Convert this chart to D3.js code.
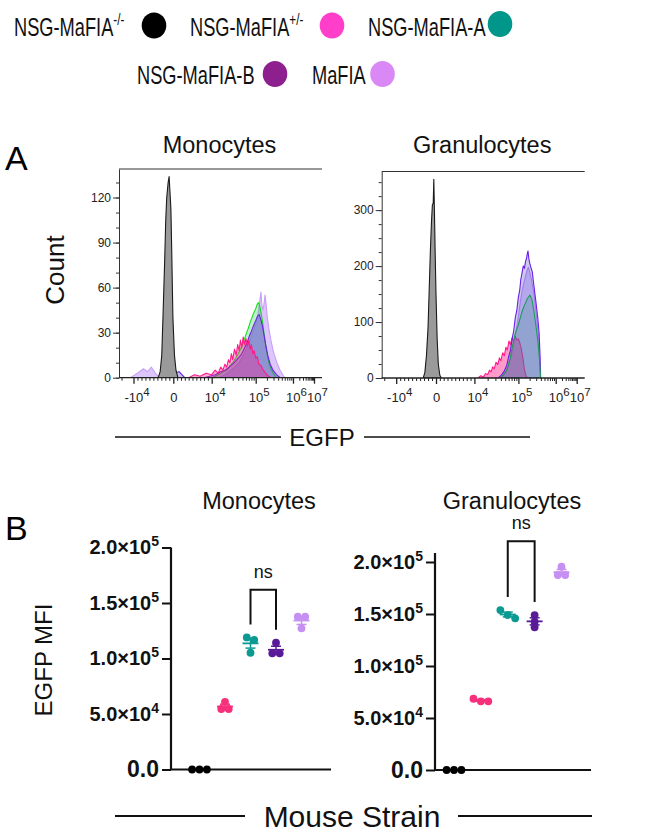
<!DOCTYPE html>
<html>

<head>
    <meta charset="UTF-8" />
    <title>EGFP in MaFIA strains</title>
    <style>
        body {
            margin: 0;
            padding: 0;
            background-color: #fff;
            font-family: 'Liberation Sans', Arial, sans-serif;
        }
    </style>
</head>

<body>
    <div class="container"></div>

    <script src="https://cdnjs.cloudflare.com/ajax/libs/d3/7.8.5/d3.min.js"></script>
    <script>
        // ---------- data ----------
        const strains = ['NSG-MaFIA-/-', 'NSG-MaFIA+/-', 'NSG-MaFIA-A', 'NSG-MaFIA-B', 'MaFIA'];
        const legendBase = ['NSG-MaFIA', 'NSG-MaFIA', 'NSG-MaFIA-A', 'NSG-MaFIA-B', 'MaFIA'];
        const legendSup = ['-/-', '+/-', '', '', ''];
        const legendColors = ['#000000', '#ff3ec9', '#00968a', '#8e1f8e', '#da88f6'];
        const dotColors = ['#000000', '#f7307c', '#0b9a92', '#5a1b98', '#c690f2'];
        const cellTypes = ['Monocytes', 'Granulocytes'];

        // flow histograms, [EGFP, count]
        const monoNeg = [[-3800, 0], [-3300, 4], [-2900, 15], [-2600, 40], [-2200, 75], [-1900, 105], [-1650, 120], [-1300, 130], [-1050, 134], [-800, 122], [-600, 112], [-400, 85], [-100, 40], [300, 15], [700, 5], [1200, 0]];
        const monoHet = [[4000, 0], [5500, 2], [7000, 1], [8500, 3], [10000, 2], [12000, 5], [14000, 3], [16000, 7], [18000, 5], [20000, 9], [22000, 7], [24000, 12], [26000, 10], [28000, 16], [30000, 12], [33000, 19], [36000, 15], [39000, 22], [42000, 18], [45000, 25], [48000, 20], [52000, 27], [56000, 22], [60000, 26], [65000, 21], [70000, 25], [75000, 19], [80000, 22], [86000, 16], [92000, 18], [100000, 13], [110000, 14], [122000, 9], [140000, 8], [160000, 5], [185000, 3], [220000, 1], [260000, 0]];
        const monoA = [[10000, 0], [14000, 2], [18000, 4], [22000, 5], [26000, 8], [30000, 10], [35000, 13], [40000, 16], [45000, 19], [50000, 22], [56000, 26], [62000, 30], [68000, 33], [75000, 37], [82000, 40], [90000, 43], [100000, 46], [110000, 49], [120000, 50], [130000, 47], [142000, 42], [155000, 36], [172000, 27], [195000, 18], [225000, 10], [265000, 5], [310000, 2], [360000, 0]];
        const monoB = [[-3000, 0], [-2000, 3], [-1000, 5], [0, 3], [1500, 4], [3000, 0], [8000, 0], [12000, 2], [16000, 4], [20000, 5], [25000, 7], [30000, 9], [35000, 11], [40000, 13], [46000, 15], [52000, 18], [58000, 21], [65000, 24], [72000, 28], [80000, 31], [90000, 35], [100000, 38], [112000, 41], [124000, 42], [136000, 39], [150000, 35], [166000, 29], [185000, 22], [210000, 15], [245000, 9], [290000, 5], [360000, 2], [450000, 0]];
        const monoWt = [[-12000, 0], [-9000, 3], [-7500, 6], [-6500, 4], [-5500, 7], [-4500, 3], [-3500, 0], [15000, 0], [20000, 2], [25000, 4], [30000, 6], [36000, 8], [42000, 10], [48000, 13], [55000, 16], [62000, 20], [70000, 24], [80000, 28], [90000, 32], [100000, 36], [110000, 40], [120000, 45], [130000, 52], [138000, 57], [146000, 49], [155000, 45], [165000, 48], [178000, 55], [190000, 49], [205000, 40], [225000, 33], [255000, 25], [300000, 17], [370000, 10], [450000, 5], [530000, 2], [600000, 0]];

        const granNeg = [[-3200, 0], [-2800, 10], [-2400, 40], [-2000, 90], [-1700, 160], [-1400, 230], [-1100, 285], [-900, 310], [-700, 312], [-550, 355], [-400, 300], [-200, 220], [0, 150], [300, 70], [600, 25], [1000, 5], [1400, 0]];
        const granHet = [[12000, 0], [14000, 4], [16000, 2], [18000, 8], [20000, 6], [22000, 14], [24000, 11], [26000, 20], [28000, 16], [31000, 28], [34000, 24], [37000, 36], [40000, 31], [44000, 45], [48000, 40], [52000, 55], [56000, 50], [61000, 66], [66000, 60], [72000, 72], [78000, 66], [85000, 74], [92000, 68], [100000, 70], [110000, 62], [120000, 52], [132000, 35], [145000, 15], [160000, 4], [175000, 0]];
        const granA = [[40000, 0], [55000, 15], [65000, 35], [75000, 60], [85000, 80], [100000, 95], [115000, 110], [130000, 122], [150000, 132], [175000, 142], [205000, 148], [230000, 140], [260000, 120], [300000, 90], [340000, 60], [370000, 30], [395000, 0]];
        const granB = [[35000, 0], [42000, 6], [48000, 13], [54000, 22], [60000, 38], [66000, 50], [72000, 70], [78000, 84], [85000, 108], [92000, 121], [100000, 145], [108000, 156], [116000, 176], [125000, 188], [135000, 200], [145000, 196], [155000, 208], [165000, 214], [173000, 222], [181000, 227], [190000, 214], [200000, 206], [215000, 198], [235000, 190], [260000, 165], [290000, 140], [330000, 108], [360000, 80], [380000, 40], [395000, 0]];
        const granWt = [[40000, 0], [50000, 8], [60000, 22], [70000, 42], [80000, 65], [90000, 88], [100000, 110], [112000, 135], [125000, 155], [140000, 170], [155000, 182], [170000, 192], [185000, 198], [200000, 190], [225000, 175], [260000, 150], [300000, 115], [340000, 80], [370000, 40], [390000, 0]];

        const egfpTicks = [-1e4, 0, 1e4, 1e5, 1e6, 1e7];
        const egfpTickBase = ['-10', '0', '10', '10', '10', '10'];
        const egfpTickSup = ['4', '', '4', '5', '6', '7'];
        const monoCountTicks = [0, 30, 60, 90, 120];
        const granCountTicks = [0, 100, 200, 300];

        // EGFP MFI per mouse (3 per strain)
        const monoMFI = [[0, 0, 0], [61000, 54500, 54500], [119000, 116700, 105200], [114200, 104700, 104700], [137700, 137700, 127200]];
        const granMFI = [[0, 0, 0], [68500, 66000, 66000], [153800, 149000, 145800], [149000, 142600, 137200], [195500, 187500, 187500]];
        const mfiTicks = [0, 5e4, 1e5, 1.5e5, 2e5];
        const mfiTickBase = ['0.0', '5.0×10', '1.0×10', '1.5×10', '2.0×10'];
        const mfiTickSup = ['', '4', '5', '5', '5'];

        // ---------- drawing ----------
        const svg = d3.select('.container').append('svg')
            .attr('width', 649)
            .attr('height', 836)
            .style('font-family', "'Liberation Sans', Arial, sans-serif");

        function supText(sel, base, sup, supSize, supDy) {
            sel.text(null);
            sel.append('tspan').text(base);
            if (sup) sel.append('tspan').attr('font-size', supSize).attr('dy', supDy).text(sup);
        }

        // legend
        const legendLayout = [
            { x: 14, y: 36, cx: 154, cy: 25.5 },
            { x: 190, y: 36, cx: 332, cy: 25.5 },
            { x: 368, y: 36, cx: 500, cy: 24 },
            { x: 137, y: 84, cx: 275, cy: 74 },
            { x: 312, y: 84, cx: 382.5, cy: 74 }
        ];
        strains.forEach((s, i) => {
            const L = legendLayout[i];
            const t = svg.append('g')
                .attr('transform', `translate(${L.x},${L.y}) scale(0.73,1)`)
                .append('text')
                .attr('font-size', 25)
                .attr('fill', '#111');
            supText(t, legendBase[i], legendSup[i], 16, -11);
            svg.append('ellipse')
                .attr('cx', L.cx).attr('cy', L.cy)
                .attr('rx', 12.3).attr('ry', 13)
                .attr('fill', legendColors[i]);
        });

        // panel letters
        svg.append('text').attr('x', 5).attr('y', 170).attr('font-size', 34).text('A');
        svg.append('text').attr('x', 5).attr('y', 540).attr('font-size', 34).text('B');

        // ----- A: histograms -----
        function egfpT(v) {
            return Math.abs(v) <= 1e4 ? v / 1e4 : Math.sign(v) * (Math.log10(Math.abs(v)) - 3);
        }

        const histW = 203;
        const histSeries = {
            Monocytes: [
                { data: monoWt, fill: 'rgba(198,160,250,0.6)', stroke: '#c7a0f6' },
                { data: monoA, fill: 'rgba(0,190,60,0.25)', stroke: '#16dd16' },
                { data: monoB, fill: 'rgba(100,60,220,0.35)', stroke: '#6a22de' },
                { data: monoHet, fill: 'rgba(255,20,140,0.35)', stroke: '#ff1a8c' },
                { data: monoNeg, fill: '#9a9a9a', stroke: '#1a1a1a' }
            ],
            Granulocytes: [
                { data: granWt, fill: 'rgba(190,160,245,0.55)', stroke: '#b98ef5' },
                { data: granHet, fill: 'rgba(255,30,140,0.45)', stroke: '#ff1a8c' },
                { data: granB, fill: 'rgba(110,100,210,0.35)', stroke: '#6a1fe6' },
                { data: granA, fill: 'rgba(0,150,90,0.18)', stroke: '#1f9a5a' },
                { data: granNeg, fill: '#9a9a9a', stroke: '#1a1a1a' }
            ]
        };

        function drawHist(cfg) {
            const g = svg.append('g').attr('transform', `translate(${cfg.left},${cfg.top})`);
            const h = cfg.bottom - cfg.top;
            const x = d3.scaleLinear().domain([-1, 0, 1, 2, 3, 4]).range([14.5, 54.3, 92.7, 136.7, 174, 195]);
            const y = d3.scaleLinear().domain([0, cfg.yMax]).range([h, 0]);

            const clipId = 'clip-' + cfg.name;
            g.append('clipPath').attr('id', clipId)
                .append('rect').attr('width', histW).attr('height', h);

            const area = d3.area()
                .x(d => x(egfpT(d[0])))
                .y0(h)
                .y1(d => y(d[1]));

            const layer = g.append('g').attr('clip-path', `url(#${clipId})`);
            histSeries[cfg.name].forEach(s => {
                layer.append('path')
                    .attr('d', area(s.data))
                    .attr('fill', s.fill)
                    .attr('stroke', s.stroke)
                    .attr('stroke-width', 1.1)
                    .attr('stroke-linejoin', 'round');
            });

            // frame: top line
            g.append('line').attr('x1', 0).attr('x2', histW).attr('y1', 0).attr('y2', 0)
                .attr('stroke', '#333').attr('stroke-width', 1);

            // y axis with minor ticks
            const minorY = d3.range(0, cfg.yMax, cfg.minorStep);
            g.append('g')
                .call(d3.axisLeft(y).tickValues(minorY).tickSize(3).tickFormat(''))
                .call(a => a.select('.domain').remove())
                .selectAll('line').attr('stroke', '#333');
            const yAx = g.append('g')
                .call(d3.axisLeft(y).tickValues(cfg.yTicks).tickSize(6).tickPadding(2).tickSizeOuter(0));
            yAx.select('.domain').attr('stroke', '#333');
            yAx.selectAll('.tick line').attr('stroke', '#333');
            yAx.selectAll('text').attr('font-size', 12).attr('fill', '#222')
                .style('font-family', "'Liberation Sans', Arial, sans-serif");

            // x axis (biexponential display)
            const minorX = [];
            d3.range(-9000, 10000, 1000).forEach(v => { if (v !== 0) minorX.push(v); });
            [1e4, 1e5, 1e6].forEach(p => d3.range(2, 10).forEach(k => { minorX.push(k * p); minorX.push(-k * p); }));
            const minorT = minorX.map(egfpT).filter(t => x(t) >= 0 && x(t) <= histW);
            g.append('g').attr('transform', `translate(0,${h})`)
                .call(d3.axisBottom(x).tickValues(minorT).tickSize(3).tickFormat(''))
                .call(a => a.select('.domain').remove())
                .selectAll('line').attr('stroke', '#222');
            const xAx = g.append('g').attr('transform', `translate(0,${h})`)
                .call(d3.axisBottom(x).tickValues(egfpTicks.map(egfpT)).tickSize(6).tickSizeOuter(0).tickFormat(''));
            xAx.select('.domain').attr('d', `M0,0H${histW}`).attr('stroke', '#222').attr('stroke-width', 1.3);
            xAx.selectAll('.tick line').attr('stroke', '#222').attr('stroke-width', 1.3);
            xAx.selectAll('.tick').append('text')
                .attr('y', 24)
                .attr('dx', (d, i) => egfpTickSup[i] ? 3 : 0)
                .attr('text-anchor', 'middle')
                .attr('font-size', 13)
                .attr('fill', '#222')
                .each(function (d, i) { supText(d3.select(this), egfpTickBase[i], egfpTickSup[i], 11.5, -6); });

            svg.append('text')
                .attr('x', cfg.left + histW / 2 - 1)
                .attr('y', 153)
                .attr('text-anchor', 'middle')
                .attr('font-size', 23.5)
                .attr('fill', '#111')
                .text(cfg.name);
        }

        drawHist({ name: 'Monocytes', left: 119, top: 169, bottom: 377.7, yMax: 139, yTicks: monoCountTicks, minorStep: 10 });
        drawHist({ name: 'Granulocytes', left: 381.7, top: 171.5, bottom: 378, yMax: 369, yTicks: granCountTicks, minorStep: 25 });

        svg.append('text')
            .attr('transform', 'translate(64,270) rotate(-90)')
            .attr('text-anchor', 'middle')
            .attr('font-size', 26)
            .attr('fill', '#111')
            .text('Count');

        svg.append('line').attr('x1', 115).attr('x2', 281).attr('y1', 437).attr('y2', 437).attr('stroke', '#111').attr('stroke-width', 1.5);
        svg.append('line').attr('x1', 364).attr('x2', 530).attr('y1', 437).attr('y2', 437).attr('stroke', '#111').attr('stroke-width', 1.5);
        svg.append('text').attr('x', 322).attr('y', 446).attr('text-anchor', 'middle')
            .attr('font-size', 24).attr('fill', '#111').text('EGFP');

        // ----- B: MFI dot plots -----
        function drawMFI(cfg) {
            const g = svg.append('g');
            const y = d3.scaleLinear().domain([0, 2e5]).range([cfg.y0, cfg.yTop]);
            const x = d3.scalePoint().domain(strains).range(cfg.xRange);

            const yAx = g.append('g').attr('transform', `translate(${cfg.axisX},0)`)
                .call(d3.axisLeft(y).tickValues(mfiTicks).tickSize(9).tickPadding(3).tickSizeOuter(0));
            yAx.select('.domain').remove();
            yAx.selectAll('.tick line').attr('stroke', '#111').attr('stroke-width', 2);
            yAx.selectAll('.tick text')
                .attr('fill', '#111')
                .attr('font-weight', 'bold')
                .attr('font-size', (d, i) => i === 0 ? 23 : 20)
                .style('font-family', "'Liberation Sans', Arial, sans-serif")
                .each(function (d, i) { supText(d3.select(this), mfiTickBase[i], mfiTickSup[i], 14, -8); });

            g.append('path')
                .attr('d', `M${cfg.axisX},${cfg.axisTopY}V${y(0)}H${cfg.xEnd}`)
                .attr('fill', 'none').attr('stroke', '#111').attr('stroke-width', 2.2);

            // dots, spread sideways when they overlap
            cfg.values.forEach((vals, gi) => {
                const cx = x(strains[gi]);
                const col = dotColors[gi];
                const pts = vals.map(v => ({ v: v, py: y(v) })).sort((a, b) => a.py - b.py);
                const clusters = [];
                pts.forEach(p => {
                    const last = clusters[clusters.length - 1];
                    if (last && p.py - last[last.length - 1].py < 5) last.push(p);
                    else clusters.push([p]);
                });
                clusters.forEach(c => c.forEach((p, i) => {
                    g.append('circle')
                        .attr('cx', cx + (i - (c.length - 1) / 2) * 7.4)
                        .attr('cy', p.py)
                        .attr('r', 3.9)
                        .attr('fill', col);
                }));

                const m = d3.mean(vals);
                const sem = d3.deviation(vals) / Math.sqrt(vals.length);
                g.append('line').attr('x1', cx - 8).attr('x2', cx + 8).attr('y1', y(m)).attr('y2', y(m))
                    .attr('stroke', col).attr('stroke-width', 1.8);
                if (sem > 0) {
                    g.append('line').attr('x1', cx).attr('x2', cx).attr('y1', y(m - sem)).attr('y2', y(m + sem))
                        .attr('stroke', col).attr('stroke-width', 1.5);
                    [m - sem, m + sem].forEach(b => {
                        g.append('line').attr('x1', cx - 5).attr('x2', cx + 5).attr('y1', y(b)).attr('y2', y(b))
                            .attr('stroke', col).attr('stroke-width', 1.5);
                    });
                }
            });

            // ns bracket between A and B
            const xa = x(strains[2]), xb = x(strains[3]);
            const ya = y(d3.max(cfg.values[2])) - 13, yb = y(d3.max(cfg.values[3])) - 13;
            const yt = y(cfg.bracketTop);
            g.append('path')
                .attr('d', `M${xa},${ya}V${yt}H${xb}V${yb}`)
                .attr('fill', 'none').attr('stroke', '#111').attr('stroke-width', 2);
            g.append('text')
                .attr('x', (xa + xb) / 2).attr('y', yt - 12)
                .attr('text-anchor', 'middle').attr('font-size', 18).attr('fill', '#111')
                .text('ns');

            g.append('text')
                .attr('x', cfg.titleX).attr('y', 509)
                .attr('text-anchor', 'middle').attr('font-size', 23.5).attr('fill', '#111')
                .text(cfg.name);
        }

        drawMFI({ name: cellTypes[0], values: monoMFI, axisX: 171, y0: 769.5, yTop: 547.5, axisTopY: 547.5, xEnd: 331, xRange: [199.5, 301.5], bracketTop: 162000, titleX: 259 });
        drawMFI({ name: cellTypes[1], values: granMFI, axisX: 435, y0: 770, yTop: 562, axisTopY: 553, xEnd: 591, xRange: [454, 561.5], bracketTop: 220000, titleX: 512 });

        svg.append('text')
            .attr('transform', 'translate(52,660) rotate(-90)')
            .attr('text-anchor', 'middle')
            .attr('font-size', 24)
            .attr('fill', '#111')
            .text('EGFP MFI');

        svg.append('line').attr('x1', 115).attr('x2', 245).attr('y1', 816).attr('y2', 816).attr('stroke', '#111').attr('stroke-width', 1.8);
        svg.append('line').attr('x1', 458).attr('x2', 592).attr('y1', 816).attr('y2', 816).attr('stroke', '#111').attr('stroke-width', 1.8);
        svg.append('text').attr('x', 352).attr('y', 827).attr('text-anchor', 'middle')
            .attr('font-size', 30).attr('fill', '#111').text('Mouse Strain');
    </script>
</body>

</html>
